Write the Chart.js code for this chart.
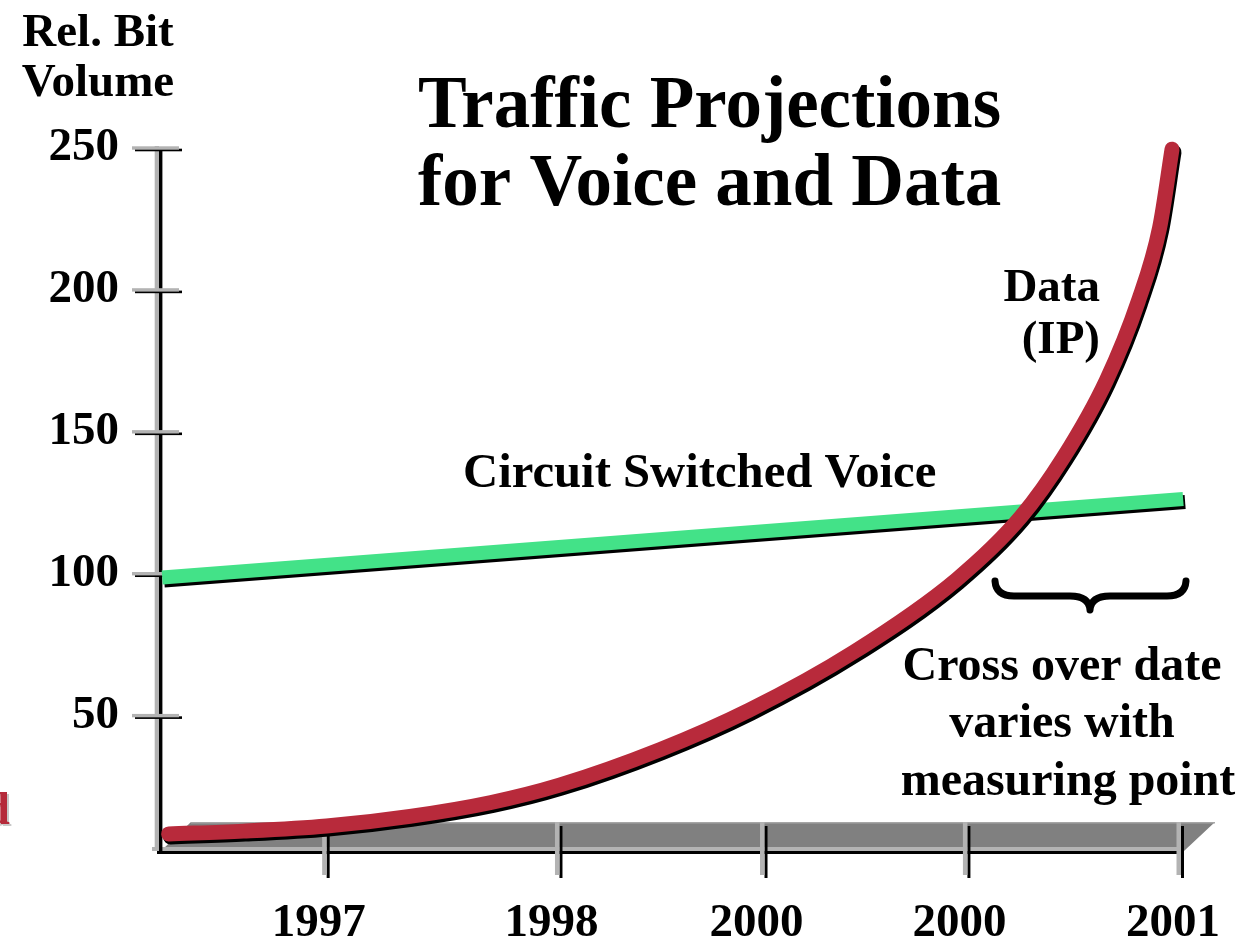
<!DOCTYPE html>
<html>
<head>
<meta charset="utf-8">
<title>Traffic Projections for Voice and Data</title>
<script src="https://cdn.jsdelivr.net/npm/chart.js@4.4.1/dist/chart.umd.min.js"></script>
<style>
	html, body { margin: 0; padding: 0; background: #fff; }
	#wrap { position: relative; width: 1256px; height: 939px; }
</style>
</head>
<body>
<div id="wrap"><canvas id="myChart"></canvas></div>
<script>
!(function(){
	'use strict';

	// values (x = year, y = relative bit volume)
	var dataYears   = [1996.26, 1996.61, 1997.0, 1997.39, 1997.77, 1998.09, 1998.56, 1998.98, 1999.47, 1999.95, 2000.25, 2000.45, 2000.65, 2000.80, 2000.90, 2000.958];
	var dataVolume  = [8.3, 9.3, 11.1, 14.5, 19.4, 25.5, 38, 52, 72.5, 98, 120, 141, 168, 196, 222, 249.6];
	var voiceYears  = [1996.23, 2001.01];
	var voiceVolume = [98.7, 126.3];

	var xTickValues = [1997, 1998.09, 1999.05, 2000, 2001];
	var xTickLabels = ['1997', '1998', '2000', '2000', '2001'];
	var yTickValues = [50, 100, 150, 200, 250];

	var serif = '"Liberation Serif", "Times New Roman", serif';

	function toPoints(xs, ys){
		var out = [];
		for (var i = 0; i < xs.length; i++) {
			out.push({ x: xs[i], y: ys[i] });
		}
		return out;
	}

	function text(ctx, str, x, y, align, size){
		ctx.font = 'bold ' + size + 'px ' + serif;
		ctx.textAlign = align;
		ctx.textBaseline = 'alphabetic';
		ctx.fillText(str, x, y);
	}

	// 3D-ish axes, floor and tick marks like the original slide
	var slideAxes = {
		id: 'slideAxes',
		beforeDatasetsDraw: function(chart){
			var ctx = chart.ctx, a = chart.chartArea;
			var xs = chart.scales.x, ys = chart.scales.y;
			var floorTop = a.bottom - 29;
			ctx.save();

			// grey floor
			ctx.fillStyle = '#808080';
			ctx.beginPath();
			ctx.moveTo(a.left + 32, floorTop);
			ctx.lineTo(a.right + 34, floorTop);
			ctx.lineTo(a.right + 3, a.bottom);
			ctx.lineTo(a.left + 2, a.bottom);
			ctx.closePath();
			ctx.fill();
			ctx.fillStyle = '#a6a6a6';
			ctx.fillRect(a.left + 32, floorTop, a.right - a.left + 2, 1.5);

			// x axis
			ctx.fillStyle = '#000';
			ctx.fillRect(a.left - 2, a.bottom, a.right - a.left + 5, 3);
			ctx.fillStyle = '#b3b3b3';
			ctx.fillRect(a.left - 7, a.bottom - 4, a.right - a.left + 7, 4);

			// x ticks
			xTickValues.forEach(function(v){
				var px = xs.getPixelForValue(v);
				ctx.fillStyle = '#000';
				ctx.fillRect(px, floorTop + 4, 3, 52);
				ctx.fillStyle = '#b3b3b3';
				ctx.fillRect(px - 4.5, floorTop, 4.5, 53);
			});

			// y axis
			ctx.fillStyle = '#000';
			ctx.fillRect(a.left, a.top + 2, 3.4, a.bottom - a.top + 1);
			ctx.fillStyle = '#b3b3b3';
			ctx.fillRect(a.left - 4.3, a.top - 2, 4.3, a.bottom - a.top + 2);

			// y ticks
			yTickValues.forEach(function(v){
				var py = ys.getPixelForValue(v);
				ctx.fillStyle = '#000';
				ctx.fillRect(a.left - 24, py + 0.7, 47, 2.6);
				ctx.fillStyle = '#b3b3b3';
				ctx.fillRect(a.left - 27, py - 1.7, 47, 3.4);
			});
			ctx.restore();
		},
		beforeDatasetDraw: function(chart){
			var ctx = chart.ctx;
			ctx.save();
			ctx.shadowColor = '#000';
			ctx.shadowBlur = 0;
			ctx.shadowOffsetX = 2;
			ctx.shadowOffsetY = 3;
		},
		afterDatasetDraw: function(chart){
			chart.ctx.restore();
		},
		afterDatasetsDraw: function(chart){
			var ctx = chart.ctx;
			ctx.save();
			ctx.fillStyle = '#000';

			text(ctx, 'Rel. Bit', 98, 46, 'center', 47);
			text(ctx, 'Volume', 98, 96, 'center', 47);

			text(ctx, 'Traffic Projections', 418, 127, 'left', 73);
			text(ctx, 'for Voice and Data', 418, 205, 'left', 73);

			text(ctx, 'Data', 1100, 301, 'right', 47);
			text(ctx, '(IP)', 1100, 353, 'right', 47);

			text(ctx, 'Circuit Switched Voice', 463, 487, 'left', 48.7);

			text(ctx, 'Cross over date', 1062, 680, 'center', 48);
			text(ctx, 'varies with', 1062, 737, 'center', 48);
			text(ctx, 'measuring point', 1068, 795, 'center', 48);

			// clipped label from the neighbouring slide
			ctx.save();
			ctx.shadowColor = '#c8c8c8';
			ctx.shadowOffsetX = 2;
			ctx.shadowOffsetY = 2;
			ctx.fillStyle = '#b52a3a';
			text(ctx, 'd', 10, 824, 'right', 47);
			ctx.restore();

			// brace under the cross over range
			ctx.strokeStyle = '#000';
			ctx.lineWidth = 7;
			ctx.lineCap = 'round';
			ctx.lineJoin = 'round';
			ctx.beginPath();
			ctx.moveTo(995, 581);
			ctx.quadraticCurveTo(996, 596, 1014, 596);
			ctx.lineTo(1070, 596);
			ctx.quadraticCurveTo(1089, 596, 1090, 610);
			ctx.quadraticCurveTo(1091, 596, 1110, 596);
			ctx.lineTo(1167, 596);
			ctx.quadraticCurveTo(1185, 596, 1186, 581);
			ctx.stroke();
			ctx.restore();
		}
	};

	var ctx = document.getElementById('myChart').getContext('2d');
	var myChart = new Chart(ctx, {
		type: 'line',
		data: {
			datasets: [{
				label: 'Data (IP)',
				data: toPoints(dataYears, dataVolume),
				borderColor: '#b82a3b',
				borderWidth: 15,
				borderCapStyle: 'round',
				cubicInterpolationMode: 'monotone',
				pointRadius: 0,
				fill: false,
				clip: false
			}, {
				label: 'Circuit Switched Voice',
				data: toPoints(voiceYears, voiceVolume),
				borderColor: '#43e288',
				borderWidth: 14,
				borderCapStyle: 'butt',
				pointRadius: 0,
				fill: false,
				clip: false
			}]
		},
		options: {
			responsive: true,
			maintainAspectRatio: false,
			devicePixelRatio: 1,
			animation: false,
			layout: { padding: { top: 148, right: 75, bottom: 0, left: 0 } },
			plugins: {
				legend: { display: false },
				title: { display: false },
				tooltip: { enabled: false }
			},
			scales: {
				x: {
					type: 'linear',
					min: 1996.215,
					max: 2001,
					grid: { display: false },
					border: { display: false },
					afterBuildTicks: function(scale){
						scale.ticks = xTickValues.map(function(v){ return { value: v }; });
					},
					afterFit: function(scale){
						scale.height = 88;
						scale.paddingLeft = 0;
						scale.paddingRight = 0;
					},
					ticks: {
						autoSkip: false,
						maxRotation: 0,
						padding: 37,
						labelOffset: -8,
						color: '#000',
						font: { family: serif, weight: 'bold', size: 47 },
						callback: function(value, index){ return xTickLabels[index]; }
					}
				},
				y: {
					min: 2.3,
					max: 250,
					grid: { display: false },
					border: { display: false },
					afterBuildTicks: function(scale){
						scale.ticks = yTickValues.map(function(v){ return { value: v }; });
					},
					afterFit: function(scale){
						scale.width = 159;
						scale.paddingTop = 0;
						scale.paddingBottom = 0;
					},
					ticks: {
						padding: 32,
						color: '#000',
						font: { family: serif, weight: 'bold', size: 47 }
					}
				}
			}
		},
		plugins: [slideAxes]
	});
})();
</script>
</body>
</html>
